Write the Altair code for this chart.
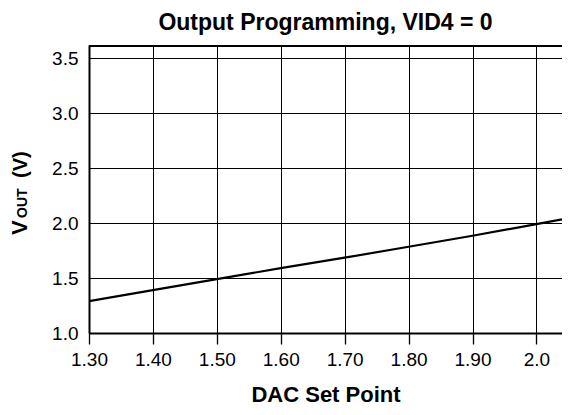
import altair as alt
import pandas as pd

# Data
dac_set_point = [1.30, 1.40, 1.50, 1.60, 1.70, 1.80, 1.90, 2.00, 2.04]
vout = [1.29, 1.39, 1.49, 1.59, 1.685, 1.785, 1.885, 1.99, 2.033]

x_ticks = [1.30, 1.40, 1.50, 1.60, 1.70, 1.80, 1.90, 2.00]
y_ticks = [1.0, 1.5, 2.0, 2.5, 3.0, 3.5]

FONT = "Liberation Sans, Arial, Helvetica, sans-serif"
W, H = 473, 288

df = pd.DataFrame({"dac": dac_set_point, "vout": vout})

x_enc = alt.X(
    "dac:Q",
    scale=alt.Scale(domain=[1.30, 2.04], nice=False, zero=False),
    axis=alt.Axis(
        values=x_ticks,
        labelExpr="datum.value == 2 ? '2.0' : format(datum.value, '.2f')",
        labelFlush=False,
        title="DAC Set Point",
        titleFontSize=22,
        titleFontWeight="bold",
        titlePadding=15,
        tickSize=11,
        tickWidth=1.3,
        tickColor="black",
        labelPadding=6,
    ),
)
y_enc = alt.Y(
    "vout:Q",
    scale=alt.Scale(domain=[1.0, 3.62], nice=False, zero=False),
    axis=alt.Axis(
        values=y_ticks,
        format=".1f",
        labelFlush=False,
        title=None,
        ticks=False,
        labelPadding=11,
    ),
)

line = alt.Chart(df).mark_line(color="black", strokeWidth=2.2, clip=True).encode(
    x=x_enc, y=y_enc
)

top_border = alt.Chart(df).mark_rule(color="black", strokeWidth=2).encode(
    x=alt.value(0), x2=alt.value(W), y=alt.value(1)
)

title_parts = pd.DataFrame({"t": ["V"]})
yt_v = alt.Chart(title_parts).mark_text(
    text="V", angle=270, align="left", baseline="alphabetic",
    font=FONT, fontSize=22, fontWeight="bold", color="black"
).encode(x=alt.value(-62), y=alt.value(190))
yt_out = alt.Chart(title_parts).mark_text(
    text="OUT", angle=270, align="left", baseline="alphabetic",
    font=FONT, fontSize=14, fontWeight="bold", color="black"
).encode(x=alt.value(-62), y=alt.value(173))
yt_unit = alt.Chart(title_parts).mark_text(
    text="(V)", angle=270, align="left", baseline="alphabetic",
    font=FONT, fontSize=20, fontWeight="bold", color="black"
).encode(x=alt.value(-62), y=alt.value(133))

chart = (
    alt.layer(line, top_border, yt_v, yt_out, yt_unit)
    .properties(
        width=W,
        height=H,
        title=alt.TitleParams(
            "Output Programming, VID4 = 0",
            fontSize=23,
            fontWeight="bold",
            font=FONT,
            color="black",
            anchor="middle",
            offset=10,
        ),
        padding={"left": 81, "top": 37, "right": 0, "bottom": 74},
        autosize=alt.AutoSizeParams(type="none"),
    )
    .configure_view(stroke=None)
    .configure_axis(
        labelFont=FONT,
        titleFont=FONT,
        labelFontSize=19,
        labelColor="black",
        titleColor="black",
        domainColor="black",
        domainWidth=2,
        gridColor="black",
        gridWidth=1,
        gridOpacity=1,
    )
)

chart.save("out.html", embed_options={"renderer": "svg", "actions": False})
